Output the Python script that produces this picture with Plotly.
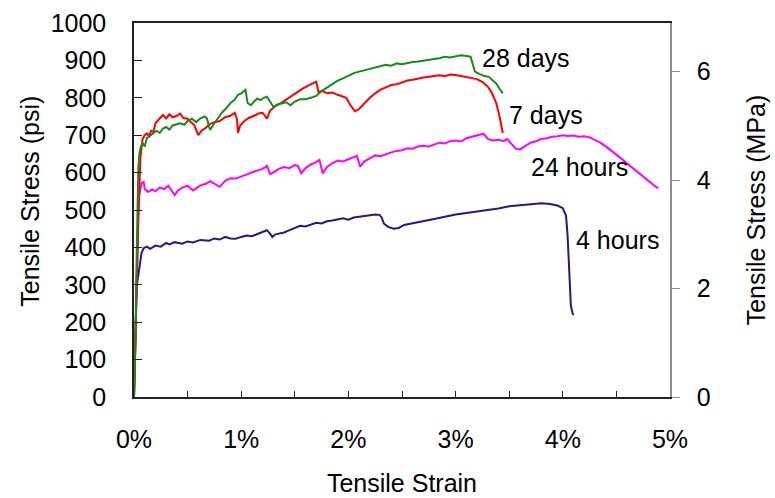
import plotly.graph_objects as go

# Tensile stress-strain curves at four curing ages (strain in %, stress in psi)
strain_4h = [0, 0.01, 0.02, 0.03, 0.05, 0.07, 0.09, 0.12, 0.15, 0.2, 0.25, 0.3, 0.33, 0.38, 0.45,
             0.5, 0.55, 0.62, 0.7, 0.75, 0.8, 0.85, 0.9, 0.95, 1.0, 1.05, 1.1, 1.15, 1.2, 1.24,
             1.27, 1.29, 1.32, 1.4, 1.45, 1.5, 1.55, 1.6, 1.65, 1.7, 1.75, 1.8, 1.85, 1.9, 1.95,
             2.0, 2.05, 2.1, 2.15, 2.2, 2.25, 2.29, 2.31, 2.33, 2.37, 2.42, 2.47, 2.52, 2.6, 2.7,
             2.8, 2.9, 2.95, 3.0, 3.1, 3.2, 3.3, 3.4, 3.5, 3.6, 3.7, 3.8, 3.88, 3.95, 4.0, 4.03,
             4.045, 4.055, 4.065, 4.075, 4.09, 4.1]
stress_4h = [0, 150, 250, 305, 350, 385, 398, 402, 396, 405, 402, 412, 408, 414, 410,
             416, 413, 420, 418, 424, 421, 428, 424, 423, 428, 432, 430, 436, 440, 446,
             436, 428, 435, 440, 446, 452, 458, 456, 462, 466, 464, 470, 472, 476, 478,
             474, 480, 482, 484, 486, 488, 487, 480, 464, 455, 450, 452, 460, 464, 470,
             476, 482, 486, 488, 492, 496, 500, 504, 510, 512, 515, 518, 516, 512, 505, 485,
             430, 360, 290, 245, 225, 219]

strain_24h = [0, 0.01, 0.02, 0.03, 0.04, 0.05, 0.07, 0.09, 0.1, 0.13, 0.17, 0.2, 0.24, 0.28, 0.32,
              0.35, 0.38, 0.41, 0.45, 0.5, 0.55, 0.58, 0.62, 0.67, 0.71, 0.74, 0.78, 0.8, 0.85,
              0.9, 0.95, 1.0, 1.05, 1.1, 1.15, 1.2, 1.24, 1.27, 1.3, 1.35, 1.4, 1.45, 1.5, 1.53,
              1.56, 1.6, 1.65, 1.7, 1.73, 1.76, 1.8, 1.85, 1.9, 1.95, 2.0, 2.05, 2.08, 2.11, 2.15,
              2.2, 2.25, 2.3, 2.35, 2.4, 2.45, 2.5, 2.55, 2.6, 2.65, 2.7, 2.75, 2.8, 2.85, 2.9,
              2.95, 3.0, 3.05, 3.1, 3.15, 3.2, 3.26, 3.3, 3.35, 3.4, 3.45, 3.48, 3.52, 3.56, 3.6,
              3.65, 3.7, 3.75, 3.8, 3.85, 3.9, 3.95, 4.0, 4.05, 4.1, 4.15, 4.2, 4.25, 4.3, 4.35,
              4.4, 4.45, 4.5, 4.55, 4.6, 4.65, 4.7, 4.75, 4.8, 4.85, 4.89]
stress_24h = [0, 120, 260, 400, 480, 540, 572, 575, 556, 548, 555, 550, 560, 556, 565,
              552, 540, 552, 560, 565, 552, 558, 566, 570, 577, 572, 566, 562, 578,
              585, 584, 590, 596, 600, 606, 610, 618, 596, 600, 610, 615, 612, 620, 618,
              598, 612, 622, 628, 634, 598, 615, 625, 632, 630, 636, 640, 645, 616, 630,
              638, 646, 644, 650, 654, 658, 660, 665, 664, 670, 672, 670, 676, 680, 678,
              684, 686, 683, 692, 696, 698, 704, 690, 686, 688, 684, 690, 678, 664, 662,
              670, 680, 684, 690, 692, 696, 697, 700, 698, 699, 696, 697, 694, 688, 680,
              670, 660, 648, 636, 624, 612, 600, 590, 576, 566, 558]

strain_7d = [0, 0.01, 0.02, 0.03, 0.04, 0.05, 0.06, 0.08, 0.1, 0.12, 0.14, 0.16, 0.18, 0.2, 0.23,
             0.25, 0.27, 0.3, 0.33, 0.36, 0.4, 0.43, 0.46, 0.5, 0.53, 0.56, 0.6, 0.63, 0.67, 0.7,
             0.74, 0.8, 0.85, 0.9, 0.94, 0.96, 0.97, 0.99, 1.03, 1.07, 1.12, 1.16, 1.2, 1.24, 1.27,
             1.32, 1.37, 1.42, 1.47, 1.52, 1.57, 1.62, 1.67, 1.7, 1.72, 1.76, 1.8, 1.85, 1.9, 1.95,
             1.98, 2.02, 2.06, 2.1, 2.15, 2.2, 2.25, 2.3, 2.35, 2.4, 2.45, 2.5, 2.55, 2.6, 2.65,
             2.7, 2.75, 2.8, 2.85, 2.9, 2.95, 3.0, 3.05, 3.1, 3.15, 3.2, 3.25, 3.3, 3.34, 3.38,
             3.41, 3.43, 3.44]
stress_7d = [0, 100, 220, 350, 480, 580, 640, 690, 700, 705, 698, 712, 708, 732, 740,
             748, 754, 745, 756, 748, 752, 758, 746, 744, 735, 728, 700, 712, 720, 728,
             734, 738, 748, 752, 760, 744, 706, 726, 738, 746, 752, 758, 760, 744, 766,
             778, 786, 796, 806, 814, 824, 832, 840, 843, 816, 818, 812, 814, 808, 802,
             800, 780, 764, 770, 786, 800, 812, 822, 828, 834, 836, 842, 846, 848, 852,
             854, 856, 857, 860, 858, 862, 861, 858, 857, 854, 850, 842, 830, 812, 785,
             750, 720, 706]

strain_28d = [0, 0.01, 0.015, 0.02, 0.03, 0.04, 0.05, 0.06, 0.08, 0.1, 0.12, 0.15, 0.18, 0.21,
              0.24, 0.27, 0.3, 0.33, 0.36, 0.4, 0.43, 0.47, 0.5, 0.54, 0.58, 0.62, 0.66, 0.68,
              0.71, 0.74, 0.78, 0.82, 0.86, 0.9, 0.94, 0.97, 1.0, 1.04, 1.06, 1.09, 1.12, 1.15,
              1.18, 1.21, 1.24, 1.27, 1.3, 1.34, 1.38, 1.42, 1.46, 1.5, 1.55, 1.6, 1.65, 1.7,
              1.75, 1.8, 1.85, 1.9, 1.95, 2.0, 2.05, 2.1, 2.15, 2.2, 2.25, 2.3, 2.35, 2.4, 2.45,
              2.5, 2.55, 2.6, 2.65, 2.7, 2.75, 2.8, 2.85, 2.9, 2.95, 3.0, 3.05, 3.1, 3.14, 3.16,
              3.18, 3.22, 3.27, 3.31, 3.35, 3.38, 3.41, 3.44]
stress_28d = [0, 80, 150, 300, 500, 610, 650, 665, 680, 670, 692, 698, 705, 712,
              706, 718, 722, 715, 726, 730, 732, 728, 738, 744, 735, 745, 750, 745,
              714, 728, 745, 760, 772, 786, 795, 808, 812, 821, 786, 780, 790, 798,
              794, 800, 803, 790, 776, 782, 784, 788, 780, 790, 796, 796, 800, 805,
              818, 828, 838, 846, 852, 860, 866, 870, 874, 878, 882, 886, 888, 886, 892,
              890, 894, 896, 897, 900, 902, 904, 906, 910, 908, 912, 914, 912, 910, 890,
              870, 864, 858, 856, 846, 838, 824, 812]

series_names = ["4 hours", "24 hours", "7 days", "28 days"]
series_colors = ["#1c1c8a", "#ff00ff", "#ff0000", "#168c16"]

PSI_TO_MPA = 0.00689476
FONT = "Liberation Sans, Arial, sans-serif"
FS = 25

fig = go.Figure()
curves = [(strain_4h, stress_4h), (strain_24h, stress_24h),
          (strain_7d, stress_7d), (strain_28d, stress_28d)]
for (sx, sy), name, color in zip(curves, series_names, series_colors):
    fig.add_trace(go.Scatter(x=sx, y=sy, mode="lines", name=name,
                             line=dict(color=color, width=2), showlegend=False))

# invisible trace to activate the secondary (MPa) axis
fig.add_trace(go.Scatter(x=[0], y=[0], yaxis="y2", mode="markers",
                         marker=dict(opacity=0), showlegend=False, hoverinfo="skip"))

# curve labels placed near the end of each curve
label_pos = {"28 days": (3.23, 906), "7 days": (3.48, 754),
             "24 hours": (3.68, 616), "4 hours": (4.10, 420)}
for name in series_names:
    lx, ly = label_pos[name]
    fig.add_annotation(x=lx, y=ly, xref="x", yref="y", text=name, showarrow=False,
                       xanchor="left", yanchor="middle",
                       font=dict(family=FONT, size=FS, color="black"))

# left axis title
fig.add_annotation(x=-0.1945, y=0.524, xref="paper", yref="paper", text="Tensile Stress (psi)",
                   showarrow=False, textangle=-90,
                   font=dict(family=FONT, size=FS, color="black"),
                   xanchor="center", yanchor="middle")

fig.update_layout(
    width=775, height=498,
    margin=dict(l=134, r=105, t=23, b=101, autoexpand=False),
    paper_bgcolor="white", plot_bgcolor="white",
    font=dict(family=FONT, size=FS, color="black"),
    xaxis=dict(
        range=[0, 5], dtick=1, ticksuffix="%", showgrid=False, zeroline=False,
        showline=True, linecolor="#222222", linewidth=1.5, mirror=True,
        ticks="inside", ticklen=6, tickcolor="#222222", tickwidth=1.2,
        minor=dict(dtick=0.5, ticks="inside", ticklen=6, tickcolor="#222222", tickwidth=1.2),
        ticklabelstandoff=19, automargin=False,
        title=dict(text="Tensile Strain", font=dict(size=FS), standoff=23),
    ),
    yaxis=dict(
        range=[0, 1000], dtick=100, showgrid=False, zeroline=False,
        showline=True, linecolor="#222222", linewidth=1.5,
        ticks="inside", ticklen=8, tickcolor="#222222", tickwidth=1.2,
        ticklabelstandoff=21, automargin=False,
    ),
    yaxis2=dict(
        overlaying="y", side="right", range=[0, 1000 * PSI_TO_MPA],
        tickvals=[0, 2, 4, 6], showgrid=False, zeroline=False,
        showline=True, linecolor="#8c8c8c", linewidth=1.5,
        ticks="outside", ticklen=8, tickcolor="#8c8c8c", tickwidth=1.2,
        ticklabelstandoff=12, automargin=False,
        title=dict(text="Tensile Stress (MPa)", font=dict(size=FS), standoff=38),
    ),
)

fig.write_html("out.html")
